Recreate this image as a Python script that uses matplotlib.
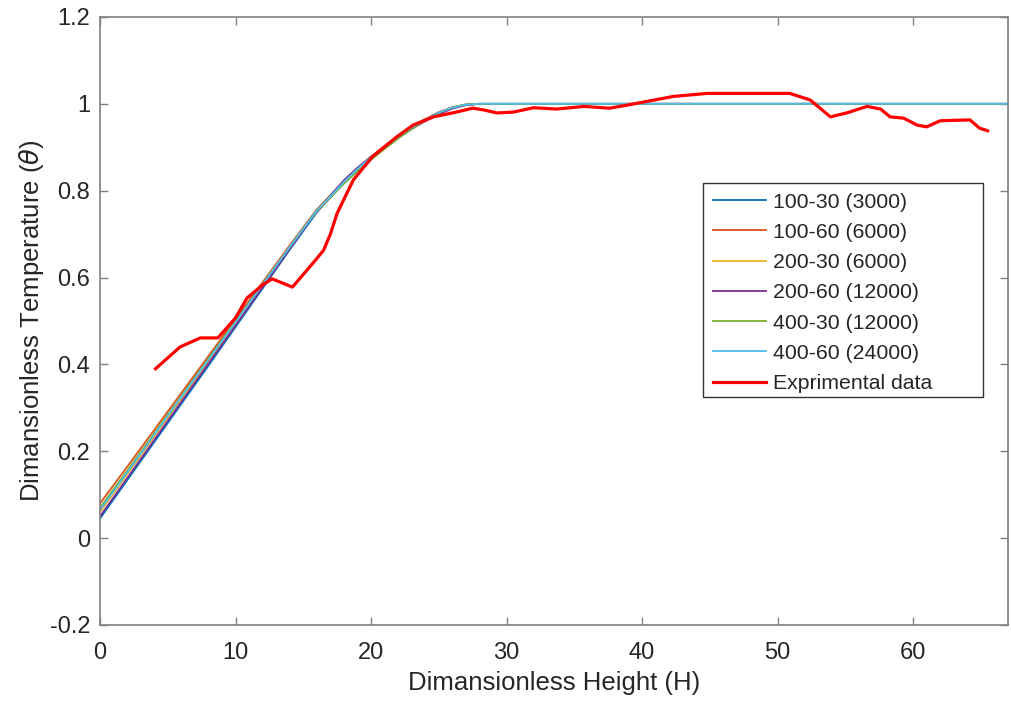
import matplotlib
matplotlib.use("Agg")
import matplotlib.pyplot as plt
from matplotlib.patches import Rectangle

# ---- data ----
labels = ["100-30 (3000)", "100-60 (6000)", "200-30 (6000)",
          "200-60 (12000)", "400-30 (12000)", "400-60 (24000)"]
colors = ["#0072BD", "#D95319", "#EDB120", "#7E2F8E", "#77AC30", "#4DBEEE"]

model_x = [0, 2, 4, 6, 8, 10, 12, 14, 16, 18, 19, 20, 21, 22, 23, 24, 25, 26, 27, 28, 30, 67]

y_100_30 = [0.045, 0.133, 0.221, 0.309, 0.397, 0.486, 0.575, 0.664, 0.750, 0.818, 0.849, 0.876, 0.900, 0.923, 0.944, 0.963, 0.979, 0.991, 0.998, 1.0, 1.0, 1.0]
y_100_60 = [0.080, 0.164, 0.249, 0.334, 0.419, 0.504, 0.589, 0.674, 0.757, 0.822, 0.852, 0.879, 0.903, 0.926, 0.947, 0.965, 0.981, 0.992, 0.998, 1.0, 1.0, 1.0]
y_200_30 = [0.060, 0.147, 0.234, 0.321, 0.408, 0.495, 0.582, 0.669, 0.752, 0.818, 0.848, 0.875, 0.899, 0.922, 0.943, 0.962, 0.978, 0.990, 0.997, 1.0, 1.0, 1.0]
y_200_60 = [0.050, 0.138, 0.226, 0.314, 0.402, 0.490, 0.578, 0.666, 0.753, 0.824, 0.853, 0.878, 0.900, 0.922, 0.942, 0.960, 0.976, 0.989, 0.997, 1.0, 1.0, 1.0]
y_400_30 = [0.070, 0.155, 0.241, 0.327, 0.413, 0.499, 0.585, 0.671, 0.755, 0.816, 0.845, 0.871, 0.896, 0.920, 0.942, 0.962, 0.979, 0.992, 0.999, 1.0, 1.0, 1.0]
y_400_60 = [0.065, 0.151, 0.238, 0.325, 0.411, 0.497, 0.584, 0.670, 0.754, 0.820, 0.850, 0.877, 0.901, 0.924, 0.945, 0.964, 0.980, 0.991, 0.998, 1.0, 1.0, 1.0]
model_y = [y_100_30, y_100_60, y_200_30, y_200_60, y_400_30, y_400_60]

exp_x = [4.1, 5.9, 7.4, 8.7, 10.0, 10.85, 12.0, 12.7, 14.2, 15.9, 16.5, 17.0, 17.5,
         18.7, 20.1, 21.9, 23.1, 24.6, 26.3, 27.5, 28.3, 29.3, 30.5, 32.0, 33.7,
         35.7, 37.6, 38.9, 40.6, 42.3, 44.8, 50.9, 52.4, 53.9, 55.1, 56.6, 57.6,
         58.3, 59.3, 60.3, 61.0, 62.0, 64.2, 64.9, 65.5]
exp_y = [0.39, 0.44, 0.461, 0.461, 0.507, 0.553, 0.583, 0.597, 0.578, 0.64, 0.663,
         0.70, 0.748, 0.825, 0.878, 0.924, 0.951, 0.970, 0.981, 0.990, 0.986, 0.979,
         0.981, 0.991, 0.988, 0.994, 0.990, 0.997, 1.007, 1.017, 1.024, 1.024, 1.009,
         0.970, 0.979, 0.994, 0.988, 0.970, 0.967, 0.951, 0.947, 0.961, 0.963, 0.944,
         0.938]

xticks = [0, 10, 20, 30, 40, 50, 60]
yticks = [-0.2, 0, 0.2, 0.4, 0.6, 0.8, 1.0, 1.2]
ytick_labels = ["-0.2", "0", "0.2", "0.4", "0.6", "0.8", "1", "1.2"]

# ---- fonts ----
plt.rcParams['font.family'] = ['Liberation Sans', 'DejaVu Sans']
tick_fs = 17
lab_fs = 18.5
leg_fs = 15.3

# ---- figure ----
fig = plt.figure(figsize=(10.12, 7.07), dpi=100)
ax = fig.add_axes([0.0988, 0.116, 0.8972, 0.860])

for ys, c, lab in zip(model_y, colors, labels):
    ax.plot(model_x, ys, color=c, lw=1.3, label=lab)
ax.plot(exp_x, exp_y, color="#FF0000", lw=2.3, label="Exprimental data")

ax.set_xlim(0, 67)
ax.set_ylim(-0.2, 1.2)
ax.set_xticks(xticks)
ax.set_yticks(yticks)
ax.set_yticklabels(ytick_labels)

gray = "#262626"
for s in ax.spines.values():
    s.set_color("#808080")
    s.set_linewidth(1.2)
ax.tick_params(direction="in", length=6, width=1, colors="#808080",
               labelcolor=gray, labelsize=tick_fs, top=True, right=True)
ax.tick_params(axis="x", pad=12)
ax.tick_params(axis="y", pad=7)

ax.set_xlabel("Dimansionless Height (H)", fontsize=lab_fs, color=gray, labelpad=5)
ax.set_ylabel(r"Dimansionless Temperature ($\theta$)", fontsize=lab_fs, color=gray, labelpad=3)

# legend box (MATLAB-style with extra space on the right)
box_x0, box_x1, box_y0, box_y1 = 0.6641, 0.9725, 0.375, 0.727
ax.add_patch(Rectangle((box_x0, box_y0), box_x1 - box_x0, box_y1 - box_y0,
                       transform=ax.transAxes, facecolor="white",
                       edgecolor="#333333", lw=1.0, zorder=4))
leg = ax.legend(loc="upper left", bbox_to_anchor=(box_x0, box_y1), borderaxespad=0,
                fontsize=leg_fs, frameon=False, handlelength=2.5,
                labelspacing=0.53, borderpad=0.45, handletextpad=0.33)
leg.set_zorder(5)
for t in leg.get_texts():
    t.set_color(gray)

fig.savefig("out.png", dpi=100)
